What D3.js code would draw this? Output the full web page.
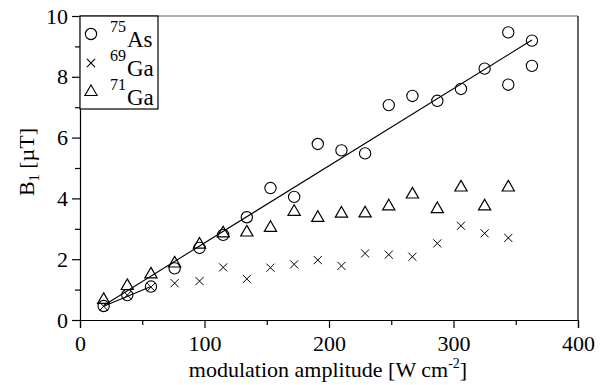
<!DOCTYPE html>
<html lang="en">
<head>
<meta charset="utf-8">
<title>B1 vs modulation amplitude</title>
<script src="https://cdn.jsdelivr.net/npm/d3@7"></script>
<style>
  body { margin: 0; background: #fff; }
  svg text { font-family: "Liberation Serif", "Times New Roman", serif; fill: #000; }
</style>
</head>
<body>
<script>
// data
let amp = [19, 38, 57, 76, 96, 115, 134, 153, 172, 191, 210, 229, 248, 267, 287, 306, 325, 344, 363];
let as75 = [0.46, 0.82, 1.1, 1.7, 2.37, 2.8, 3.38, 4.34, 4.05, 5.79, 5.58, 5.48, 7.07, 7.37, 7.21, 7.6, 8.27, 9.46, 9.19];
let as75ExtraX = [344, 363];
let as75Extra = [7.74, 8.36];
let ga69 = [0.45, 0.82, 1.08, 1.21, 1.28, 1.73, 1.35, 1.72, 1.83, 1.97, 1.78, 2.19, 2.15, 2.08, 2.52, 3.1, 2.85, 2.7];
let ga71 = [0.66, 1.12, 1.5, 1.86, 2.48, 2.85, 2.88, 3.03, 3.56, 3.36, 3.5, 3.51, 3.74, 4.13, 3.65, 4.36, 3.74, 4.36];
// fit lines (end points)
let fitAs = [[19, 0.48], [363, 9.21]];
let fitLow = [[19, 0.45], [57, 1.1]];

let w = 616, h = 385;
let mLeft = 80, mRight = 578, mTop = 16, mBottom = 320;
let serif = "Liberation Serif";

let svg = d3.select("body").append("svg")
  .attr("width", w).attr("height", h);

let x = d3.scaleLinear().domain([0, 400]).range([mLeft, mRight]);
let y = d3.scaleLinear().domain([0, 10]).range([mBottom, mTop]);

// frame: top grey, right black
svg.append("line").attr("x1", mLeft).attr("x2", mRight).attr("y1", mTop).attr("y2", mTop)
  .attr("stroke", "#999").attr("stroke-width", 1.5);
svg.append("line").attr("x1", mRight).attr("x2", mRight).attr("y1", mTop).attr("y2", mBottom)
  .attr("stroke", "#000").attr("stroke-width", 1.2);

// axes
let xAxis = svg.append("g").attr("transform", `translate(0,${mBottom})`)
  .call(d3.axisBottom(x).tickValues([0, 100, 200, 300, 400]).tickSize(8).tickFormat(d3.format("d")));
svg.append("g").attr("transform", `translate(0,${mBottom})`)
  .call(d3.axisBottom(x).tickValues([50, 150, 250, 350]).tickSize(5).tickFormat(""))
  .select(".domain").remove();
let yAxis = svg.append("g").attr("transform", `translate(${mLeft},0)`)
  .call(d3.axisLeft(y).tickValues([0, 2, 4, 6, 8, 10]).tickSize(8));
svg.append("g").attr("transform", `translate(${mLeft},0)`)
  .call(d3.axisLeft(y).tickValues([1, 3, 5, 7, 9]).tickSize(5).tickFormat(""))
  .select(".domain").remove();

svg.selectAll("g").attr("font-family", serif).attr("font-size", 22);
svg.selectAll(".domain").attr("stroke", "#000").attr("stroke-width", 1.2);
svg.selectAll(".tick line").attr("stroke", "#000").attr("stroke-width", 1.2);
xAxis.selectAll(".tick text").attr("dy", "0.9em");
yAxis.selectAll(".tick text").attr("dx", "-0.05em");

// axis titles
svg.append("text").attr("x", 328).attr("y", 377)
  .attr("text-anchor", "middle").attr("font-size", 22)
  .html('modulation amplitude [W cm<tspan dy="-9" font-size="14">-2</tspan><tspan dy="9">]</tspan>');
svg.append("text").attr("transform", "translate(34,162) rotate(-90)")
  .attr("text-anchor", "middle").attr("font-size", 22)
  .html('B<tspan dy="5" font-size="14">1</tspan><tspan dy="-5"> [µT]</tspan>');

// fit lines
let line = d3.line().x(d => x(d[0])).y(d => y(d[1]));
svg.append("path").attr("d", line(fitAs)).attr("fill", "none").attr("stroke", "#000").attr("stroke-width", 1.1);
svg.append("path").attr("d", line(fitLow)).attr("fill", "none").attr("stroke", "#000").attr("stroke-width", 1.1);

// markers
let circleSym = d3.symbol().type(d3.symbolCircle).size(100);
let triSym = d3.symbol().type(d3.symbolTriangle).size(65);
let crossSym = d3.symbol().type(d3.symbolX).size(45);

let asPts = amp.map((a, i) => [a, as75[i]]).concat(as75ExtraX.map((a, i) => [a, as75Extra[i]]));
let ga69Pts = ga69.map((v, i) => [amp[i], v]);
let ga71Pts = ga71.map((v, i) => [amp[i], v]);

svg.selectAll(".as").data(asPts).enter().append("path")
  .attr("class", "as").attr("d", circleSym)
  .attr("transform", d => `translate(${x(d[0])},${y(d[1])})`)
  .attr("fill", "none").attr("stroke", "#000").attr("stroke-width", 1.1);
svg.selectAll(".ga69").data(ga69Pts).enter().append("path")
  .attr("class", "ga69").attr("d", crossSym)
  .attr("transform", d => `translate(${x(d[0])},${y(d[1])})`)
  .attr("fill", "none").attr("stroke", "#000").attr("stroke-width", 1);
svg.selectAll(".ga71").data(ga71Pts).enter().append("path")
  .attr("class", "ga71").attr("d", triSym)
  .attr("transform", d => `translate(${x(d[0])},${y(d[1])})`)
  .attr("fill", "none").attr("stroke", "#000").attr("stroke-width", 1.2);

// legend
let lg = svg.append("g");
lg.append("rect").attr("x", mLeft).attr("y", mTop).attr("width", 78).attr("height", 93)
  .attr("fill", "#fff").attr("stroke", "#000").attr("stroke-width", 1.2);
let legendItems = [
  { sym: circleSym, mass: "75", el: "As", cy: 34 },
  { sym: crossSym, mass: "69", el: "Ga", cy: 63 },
  { sym: triSym, mass: "71", el: "Ga", cy: 92 }
];
legendItems.forEach(it => {
  lg.append("path").attr("d", it.sym).attr("transform", `translate(91,${it.cy})`)
    .attr("fill", "none").attr("stroke", "#000").attr("stroke-width", 1.1);
  lg.append("text").attr("x", 110).attr("y", it.cy - 2).attr("font-size", 16).text(it.mass);
  lg.append("text").attr("x", 127).attr("y", it.cy + 13).attr("font-size", 23).text(it.el);
});

svg.selectAll("text").attr("font-family", serif);
</script>
</body>
</html>
